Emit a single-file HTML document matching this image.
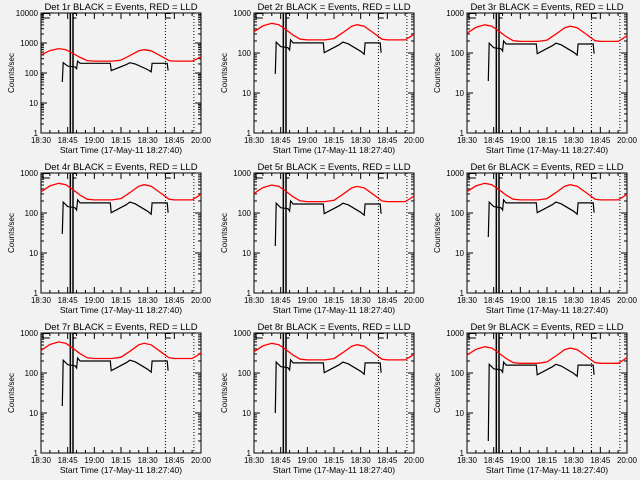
<!DOCTYPE html>
<html><head><meta charset="utf-8"><style>
body{margin:0;background:#f2f2f2;}
svg{display:block;font-family:"Liberation Sans",sans-serif;}
</style></head><body>
<svg id="c" width="640" height="480" xmlns="http://www.w3.org/2000/svg"></svg>
<script>
const detNames=["1r","2r","3r","4r","5r","6r","7r","8r","9r"];
const yMaxes=[10000,1000,1000,1000,1000,1000,1000,1000,1000];
const redScales=[1.0,0.85,0.78,0.85,0.77,0.85,0.92,0.85,0.7];
const blackScales=[1.0,0.85,0.8,0.85,0.8,0.85,0.95,0.85,0.75];
const blackStart=[50,30,20,30,15,25,15,10,2];
const xTickLabels=["18:30","18:45","19:00","18:15","18:30","18:45","20:00"];
const redT=[0,5,10,14,18,22,26,30,40,45,50,55,58,62,67,72,75,85,88,90];
const redV=[400,560,650,600,450,330,260,250,250,270,380,550,600,550,380,260,250,250,300,350];
const blackT=[12.5,15,19,19.6,20,20.6,22,39,39.5,48,50,53,60,62,62.5,71,71.5];
const blackV=[220,170,160,150,140,250,210,210,120,190,220,200,130,110,210,210,120];
const vLines=[16.5,18];
const dotLines=[70,86];
const NS="http://www.w3.org/2000/svg";
const svg=document.getElementById('c');
function mk(tag,attrs,parent,text){const e=document.createElementNS(NS,tag);for(const k in attrs)e.setAttribute(k,attrs[k]);if(text!==undefined)e.textContent=text;(parent||svg).appendChild(e);return e;}
for(let i=0;i<9;i++){
  const c=i%3,r=Math.floor(i/3);
  const x0=41+213*c,W=160,yT=13+160*r,yB=133+160*r;
  const g=mk('g',{});
  
  
  const ymax=yMaxes[i],dec=Math.log10(ymax);
  const X=t=>x0+t/90*W;
  const Y=v=>yB-Math.log10(v)/dec*(yB-yT);
  const ax=mk('rect',{x:x0,y:yT,width:W,height:yB-yT,fill:'none',stroke:'#000','stroke-width':1},g);
  
  
  for(let d=0;d<=dec;d++){
    const y=Y(Math.pow(10,d));
    mk('line',{x1:x0,x2:x0+6,y1:y,y2:y,stroke:'#000'},g);
    mk('line',{x1:x0+W-6,x2:x0+W,y1:y,y2:y,stroke:'#000'},g);
    const tl=mk('text',{x:x0-3,y:y+3,'font-size':8,'text-anchor':'end'},g,String(Math.pow(10,d)));
    
    
    if(d<dec)for(let m=2;m<10;m++){const ym=Y(m*Math.pow(10,d));
      mk('line',{x1:x0,x2:x0+3,y1:ym,y2:ym,stroke:'#000'},g);
      mk('line',{x1:x0+W-3,x2:x0+W,y1:ym,y2:ym,stroke:'#000'},g);}
  }
  for(let k=0;k<xTickLabels.length;k++){
    const xx=x0+k*W/6;
    mk('line',{x1:xx,x2:xx,y1:yB,y2:yB-6,stroke:'#000'},g);
    mk('line',{x1:xx,x2:xx,y1:yT,y2:yT+6,stroke:'#000'},g);
    const xl=mk('text',{x:xx,y:yB+10,'font-size':8,'text-anchor':'middle'},g,xTickLabels[k]);
    
    
    if(k<6)for(let m=1;m<3;m++){const xm=xx+m*W/18;
      mk('line',{x1:xm,x2:xm,y1:yB,y2:yB-3,stroke:'#000'},g);
      mk('line',{x1:xm,x2:xm,y1:yT,y2:yT+3,stroke:'#000'},g);}
  }
  const tt=mk('text',{x:x0+W/2,y:yT-3,'font-size':9.5,'text-anchor':'middle'},g,'Det '+detNames[i]+' BLACK = Events, RED = LLD');
  
  
  const xt=mk('text',{x:x0+W/2,y:yB+20,'font-size':8.5,'text-anchor':'middle'},g,'Start Time (17-May-11 18:27:40)');
  
  
  const yc=(yT+yB)/2;
  const yt=mk('text',{x:x0-27,y:yc,'font-size':8,'text-anchor':'middle',transform:`rotate(-90 ${x0-27} ${yc})`},g,'Counts/sec');
  
  
  for(const t of vLines){const l=mk('line',{x1:X(t),x2:X(t),y1:yT,y2:yB,stroke:'#000','stroke-width':1.5},g);
    
    }
  for(const t of dotLines){const l=mk('line',{x1:X(t),x2:X(t),y1:yT,y2:yB,stroke:'#000','stroke-dasharray':'1,2'},g);
    
    }
  [[1,5],[18,20],[70,73]].forEach(([a,b])=>{mk('polyline',{points:`${X(a)},${yT} ${X(a)},${yT+5} ${X(b)},${yT+5}`,fill:'none',stroke:'#000'},g);
    mk('line',{x1:X(a),x2:X(b),y1:yT+0.5,y2:yT+0.5,stroke:'#000'},g);});
  const rp=redT.map((t,j)=>X(t).toFixed(1)+','+Y(redV[j]*redScales[i]).toFixed(1)).join(' ');
  const rl=mk('polyline',{points:rp,fill:'none',stroke:'#ff0000','stroke-width':1.3},g);
  
  
  let bp=X(12).toFixed(1)+','+Y(blackStart[i]).toFixed(1)+' ';
  bp+=blackT.map((t,j)=>X(t).toFixed(1)+','+Y(blackV[j]*blackScales[i]).toFixed(1)).join(' ');
  const bl=mk('polyline',{points:bp,fill:'none',stroke:'#000','stroke-width':1.2},g);
  
  
}
</script>
</body></html>
